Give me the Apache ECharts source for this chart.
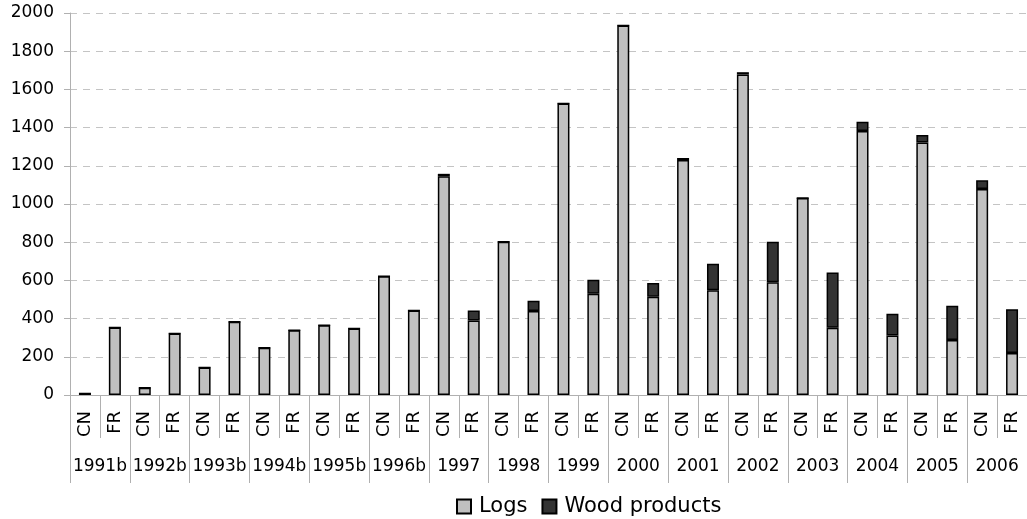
<!DOCTYPE html>
<html>
<head>
<meta charset="utf-8">
<script src="https://cdn.jsdelivr.net/npm/echarts@6/dist/echarts.min.js"></script>
<style>
  html, body { margin: 0; padding: 0; background: #fff; }
  #chart { width: 1027px; height: 519px; }
</style>
</head>
<body>
<div id="chart"></div>
<script>
// categories: CN / FR pair for each year
const years = ["1991b", "1992b", "1993b", "1994b", "1995b", "1996b", "1997", "1998",
  "1999", "2000", "2001", "2002", "2003", "2004", "2005", "2006"];
const countries = ["CN", "FR"];
const categories = [];
years.forEach(() => countries.forEach((c) => categories.push(c)));

// values (CN, FR per year)
const logs = [
  8, 354, 38, 322, 144, 383, 248, 339, 365, 348, 622, 442,
  1145, 390, 802, 440, 1526, 530, 1935, 515, 1230, 548,
  1678, 590, 1032, 352, 1382, 312, 1322, 288, 1078, 220
];
const woodProducts = [
  0, 0, 0, 0, 0, 0, 0, 0, 0, 0, 0, 0,
  13, 53, 0, 53, 0, 73, 0, 71, 11, 139,
  12, 213, 0, 289, 48, 113, 39, 179, 46, 229
];
const yTicks = { min: 0, max: 2000, interval: 200 };

const chart = echarts.init(document.getElementById("chart"));
const font = "DejaVu Sans";
const axisGrey = "#b0b0b0";

chart.setOption({
  animation: false,
  textStyle: { fontFamily: font },
  grid: { left: 70, top: 13, width: 966, bottom: 124, containLabel: false },
  legend: {
    data: ["Logs", "Wood products"],
    left: 456,
    top: 496,
    padding: 0,
    icon: "rect",
    itemWidth: 14,
    itemHeight: 14,
    itemGap: 14,
    textStyle: { fontSize: 21, color: "#000", fontFamily: font, padding: [0, 0, 0, 3] }
  },
  xAxis: [
    {
      type: "category",
      data: categories,
      position: "bottom",
      axisLine: { lineStyle: { color: axisGrey, width: 1 } },
      axisTick: { show: true, interval: 0, length: 43, lineStyle: { color: axisGrey } },
      axisLabel: { interval: 0, rotate: 90, margin: 16, fontSize: 18, color: "#000" },
      splitLine: { show: false }
    },
    {
      type: "category",
      data: years,
      position: "bottom",
      axisLine: { show: false },
      axisTick: { show: true, interval: 0, length: 88, lineStyle: { color: axisGrey } },
      axisLabel: { interval: 0, margin: 63, fontSize: 17, color: "#000" },
      splitLine: { show: false }
    }
  ],
  yAxis: {
    type: "value",
    min: yTicks.min,
    max: yTicks.max,
    interval: yTicks.interval,
    axisLine: { show: true, lineStyle: { color: axisGrey } },
    axisTick: { show: true, length: 6, lineStyle: { color: axisGrey } },
    axisLabel: { margin: 16, fontSize: 17, color: "#000", formatter: (v) => String(v) },
    splitLine: { lineStyle: { color: "#c4c4c4", type: [7, 6] } }
  },
  series: [
    {
      name: "Logs",
      type: "bar",
      stack: "total",
      barWidth: 12,
      data: logs,
      itemStyle: { color: "#c0c0c0", borderColor: "#000", borderWidth: 1.5 }
    },
    {
      name: "Wood products",
      type: "bar",
      stack: "total",
      barWidth: 12,
      data: woodProducts,
      itemStyle: { color: "#333333", borderColor: "#000", borderWidth: 1.5 }
    }
  ]
});
</script>
</body>
</html>
